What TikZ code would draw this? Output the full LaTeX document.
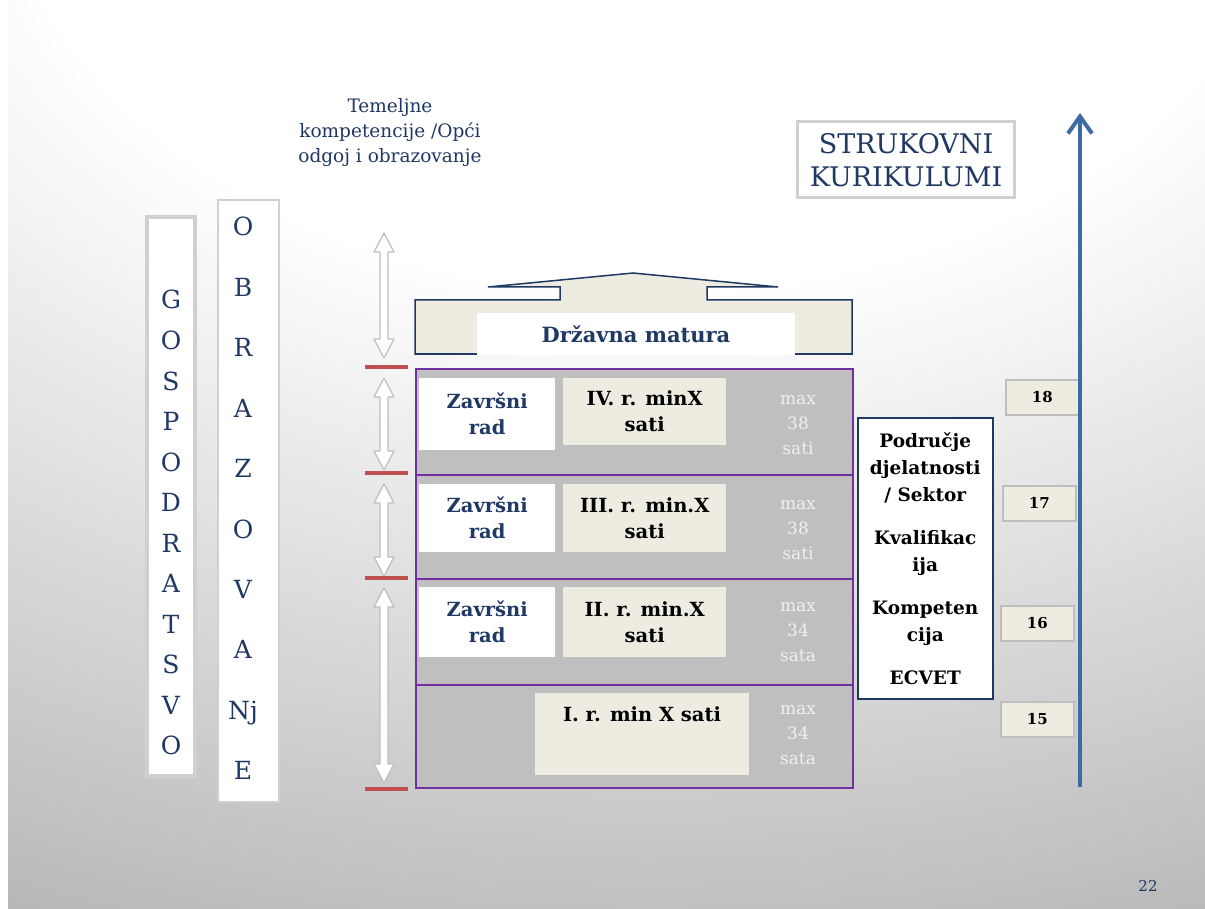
\documentclass[tikz,border=0pt]{standalone}
\usepackage{fontspec}
\setmainfont{DejaVu Serif}
\usetikzlibrary{calc,arrows.meta}
\definecolor{navy}{RGB}{31,56,100}
\definecolor{purp}{RGB}{112,48,160}
\definecolor{cellgrey}{RGB}{191,191,191}
\definecolor{beige}{RGB}{238,236,225}
\definecolor{axisblue}{RGB}{61,106,160}
\definecolor{redbar}{RGB}{192,80,77}
\definecolor{framegrey}{RGB}{208,208,208}
\definecolor{arrowgrey}{RGB}{190,190,190}
\pgfdeclareradialshading{slidebg}{\pgfpoint{0bp}{0bp}}{color(0bp)=(white); color(10bp)=(white); color(26bp)=(gray!56); color(50bp)=(gray!56)}
\newcommand{\fsz}[2]{\fontsize{#1}{#2}\selectfont}

\begin{document}
\begin{tikzpicture}[x=1pt,y=-1pt,
    letter/.style={anchor=base,text=navy,font=\fsz{25}{28}},
    rowbox/.style={anchor=north west,draw=purp,fill=cellgrey,line width=2pt,minimum width=437pt,inner sep=0pt},
    radbox/.style={anchor=north west,fill=white,minimum width=136pt,align=center,text=navy,font=\bfseries\fsz{19.5}{26},inner sep=0pt},
    minbox/.style={anchor=north west,fill=beige,minimum width=163pt,align=center,font=\bfseries\fsz{19.5}{26},inner sep=0pt},
    maxtext/.style={align=center,text=white!94!black,font=\fsz{17}{25}},
    numbox/.style={anchor=north west,fill=beige,draw=arrowgrey,line width=1.5pt,minimum width=73pt,minimum height=35pt,font=\bfseries\fsz{15}{17}},
    hollow/.style={draw=arrowgrey,fill=white,line width=1.2pt,line join=round},
    bar/.style={draw=redbar,line width=3.5pt}]
\useasboundingbox (0,0) rectangle (1205,909);
\begin{scope}
  \clip (8,0) rectangle (1205,909);
  \shade[shading=slidebg] (-950,-1250) rectangle (2250,950);
\end{scope}

\node[align=center,text=navy,font=\fsz{18.5}{25}] (title) at (390,133) {Temeljne\\kompetencije /Opći\\odgoj i obrazovanje};
\node[draw=framegrey,line width=3pt,fill=white,minimum width=217pt,minimum height=76pt,align=center,text=navy,font=\fsz{27}{33}] (struk) at (906,160) {STRUKOVNI\\KURIKULUMI};

\node[draw=framegrey,line width=4pt,fill=white,minimum width=48pt,minimum height=559pt] (gospbox) at (171,496.5) {};
\node[draw=framegrey,line width=1.5pt,fill=white,minimum width=61pt,minimum height=602pt] (obrbox) at (248.5,501) {};
\foreach \l [count=\i] in {G,O,S,P,O,D,R,A,T,S,V,O}
    \node[letter] (g\i) at (171,{309+40.5*(\i-1)}) {\l};
\foreach \l [count=\i] in {O,B,R,A,Z,O,V,A,Nj,E}
    \node[letter] (o\i) at (243,{236+60.4*(\i-1)}) {\l};

\foreach \a/\b in {233/358,378/470,484/576,588/783}
    \filldraw[hollow] (384,\a) -- (394,{\a+19}) -- (388,{\a+19}) -- (388,{\b-19}) -- (394,{\b-19}) -- (384,\b)
        -- (374,{\b-19}) -- (380,{\b-19}) -- (380,{\a+19}) -- (374,{\a+19}) -- cycle;
\foreach \y [count=\i] in {367,473,578,789}
    \draw[bar] (365,\y) coordinate (b\i) -- (408,\y);

\filldraw[draw=navy,fill=beige,line width=1.5pt] (415,300) -- (560,300) -- (560,287) -- (488,287) -- (633,273) -- (778,287)
    -- (707,287) -- (707,300) -- (852,300) -- (852,354) -- (415,354) -- cycle;
\node[fill=white,minimum width=318pt,minimum height=42pt,text=navy,font=\bfseries\fsz{21}{24}] (matura) at (636,334) {Državna matura};

\node[rowbox,minimum height=106pt] (rowIV) at (415,368) {};
\node[rowbox,minimum height=104pt] (rowIII) at (415,474) {};
\node[rowbox,minimum height=106pt] (rowII) at (415,578) {};
\node[rowbox,minimum height=103pt] (rowI) at (415,684) {};

\node[radbox,minimum height=72pt] (radIV) at (419,378) {Završni\\rad};
\node[radbox,minimum height=68pt] (radIII) at (419,484) {Završni\\rad};
\node[radbox,minimum height=70pt] (radII) at (419,587) {Završni\\rad};
\node[minbox,minimum height=67pt] (minIV) at (563,378) {IV. r. minX\\sati};
\node[minbox,minimum height=68pt] (minIII) at (563,484) {III. r. min.X\\sati};
\node[minbox,minimum height=70pt] (minII) at (563,587) {II. r. min.X\\sati};
\node[minbox,minimum width=214pt,minimum height=82pt] (minI) at (535,693) {};
\node[font=\bfseries\fsz{19.5}{26}] (minItext) at (642,714) {I. r. min X sati};

\node[maxtext] (maxIV) at (798,425) {max\\38\\sati};
\node[maxtext] (maxIII) at (798,530) {max\\38\\sati};
\node[maxtext] (maxII) at (798,632) {max\\34\\sata};
\node[maxtext] (maxI) at (798,735) {max\\34\\sata};

\node[anchor=north west,draw=navy,fill=white,line width=1.5pt,minimum width=135pt,minimum height=281pt,align=center,font=\bfseries\fsz{18.5}{27}] (sector) at (857,417)
    {Područje\\djelatnosti\\/ Sektor\\[16pt]Kvalifikac\\ija\\[16pt]Kompeten\\cija\\[16pt]ECVET};

\foreach \t/\x/\y in {18/1005/379,17/1002/485,16/1000/605,15/1000/701}
    \node[numbox] (n\t) at (\x,\y) {\t};

\coordinate (axbot) at (1080,787);
\coordinate (axtop) at (1080,113);
\draw[axisblue,line width=4pt,-{Straight Barb[length=17pt,width=24pt]}] (axbot) -- (axtop);

\node[text=navy,font=\fsz{15}{16}] (pagenum) at (1148,886) {22};
\end{tikzpicture}
\end{document}
